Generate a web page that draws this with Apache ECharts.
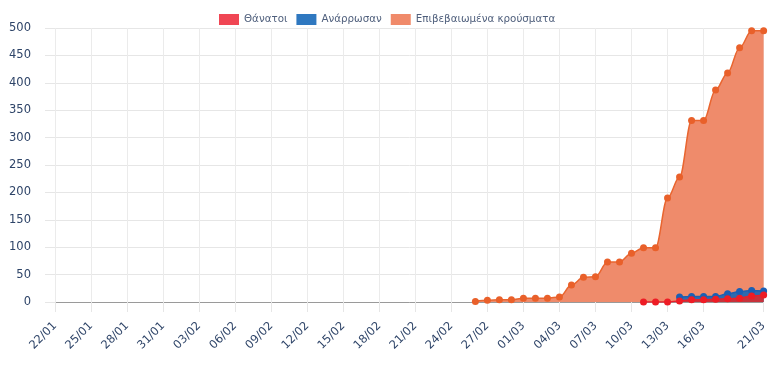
<!DOCTYPE html>
<html>
<head>
<meta charset="utf-8">
<script src="https://cdn.jsdelivr.net/npm/echarts@6/dist/echarts.min.js"></script>
<style>
html,body{margin:0;padding:0;background:#fff;}
#c{width:770px;height:371px;}
</style>
</head>
<body>
<div id="c"></div>
<script>
var categories = ['22/01','23/01','24/01','25/01','26/01','27/01','28/01','29/01','30/01','31/01',
'01/02','02/02','03/02','04/02','05/02','06/02','07/02','08/02','09/02','10/02',
'11/02','12/02','13/02','14/02','15/02','16/02','17/02','18/02','19/02','20/02',
'21/02','22/02','23/02','24/02','25/02','26/02','27/02','28/02','29/02',
'01/03','02/03','03/03','04/03','05/03','06/03','07/03','08/03','09/03','10/03',
'11/03','12/03','13/03','14/03','15/03','16/03','17/03','18/03','19/03','20/03','21/03'];

var seriesNames = ['Θάνατοι', 'Ανάρρωσαν', 'Επιβεβαιωμένα κρούσματα'];

// confirmed cases from 26/02
var confirmedStart = '26/02';
var confirmedValues = [1,3,4,4,7,7,7,9,31,45,46,73,73,89,99,99,190,228,331,331,387,418,464,495,495];
// recovered from 14/03
var recoveredStart = '14/03';
var recoveredValues = [9,10,10,10,15,19,21,20];
// deaths from 11/03
var deathsStart = '11/03';
var deathsValues = [0,0,0,2,4,4,5,6,7,11,13];

var yTicks = [0,50,100,150,200,250,300,350,400,450,500];

function pad(start, vals){
  var s = categories.indexOf(start);
  var out = [];
  for (var i = 0; i < categories.length; i++) {
    out.push(i >= s && i - s < vals.length ? vals[i - s] : null);
  }
  return out;
}

var lastIdx = categories.length - 1;
function showIdx(i){
  return (i % 3 === 0 && i !== lastIdx - 2) || i === lastIdx;
}

var chart = echarts.init(document.getElementById('c'));
var fontFam = 'DejaVu Sans';
chart.setOption({
  animation: false,
  textStyle: {fontFamily: fontFam},
  legend: {
    top: 9,
    left: 214,
    itemWidth: 20,
    itemHeight: 11,
    itemGap: 9,
    icon: 'rect',
    textStyle: {color: '#4f5f7c', fontSize: 10.3, fontFamily: fontFam},
    data: [
      {name: seriesNames[0], itemStyle: {color: '#f04654'}},
      {name: seriesNames[1], itemStyle: {color: '#2f78c0'}},
      {name: seriesNames[2], itemStyle: {color: '#f08a6a'}}
    ]
  },
  grid: {left: 55, right: 5, top: 28, bottom: 69, containLabel: false},
  xAxis: {
    type: 'category',
    boundaryGap: false,
    data: categories,
    axisLine: {lineStyle: {color: '#9a9a9a', width: 1}},
    axisTick: {show: true, length: 10, interval: function(i){return showIdx(i);}, lineStyle: {color: '#e6e6e6'}},
    splitLine: {show: true, interval: function(i){return showIdx(i);}, lineStyle: {color: '#ebebeb'}},
    axisLabel: {
      interval: function(i){return showIdx(i);},
      rotate: 45,
      margin: 22,
      color: '#2e4468',
      fontSize: 11.5,
      fontFamily: fontFam
    }
  },
  yAxis: {
    type: 'value',
    min: yTicks[0],
    max: yTicks[yTicks.length - 1],
    interval: 50,
    axisLine: {show: false},
    axisTick: {show: true, length: 10, lineStyle: {color: '#e6e6e6'}},
    splitLine: {lineStyle: {color: '#e6e6e6'}},
    axisLabel: {color: '#2e4468', fontSize: 11.5, margin: 24, fontFamily: fontFam}
  },
  series: [
    {
      name: seriesNames[2],
      type: 'line',
      data: pad(confirmedStart, confirmedValues),
      smooth: 0.35,
      smoothMonotone: 'x',
      symbol: 'circle',
      symbolSize: 7,
      showSymbol: true,
      lineStyle: {color: '#e9652f', width: 1.5},
      itemStyle: {color: '#e9602a'},
      areaStyle: {color: '#ef8b6b', opacity: 1},
      z: 1
    },
    {
      name: seriesNames[1],
      type: 'line',
      data: pad(recoveredStart, recoveredValues),
      smooth: 0.35,
      smoothMonotone: 'x',
      symbol: 'circle',
      symbolSize: 7,
      lineStyle: {color: '#1f5fb0', width: 1.5},
      itemStyle: {color: '#1a5fb4'},
      areaStyle: {color: '#2e6aae', opacity: 1},
      z: 2
    },
    {
      name: seriesNames[0],
      type: 'line',
      data: pad(deathsStart, deathsValues),
      smooth: 0.35,
      smoothMonotone: 'x',
      symbol: 'circle',
      symbolSize: 7,
      lineStyle: {color: '#e8202c', width: 1.5},
      itemStyle: {color: '#ee1c25'},
      areaStyle: {color: '#c8323b', opacity: 1},
      z: 3
    }
  ]
});
</script>
</body>
</html>
